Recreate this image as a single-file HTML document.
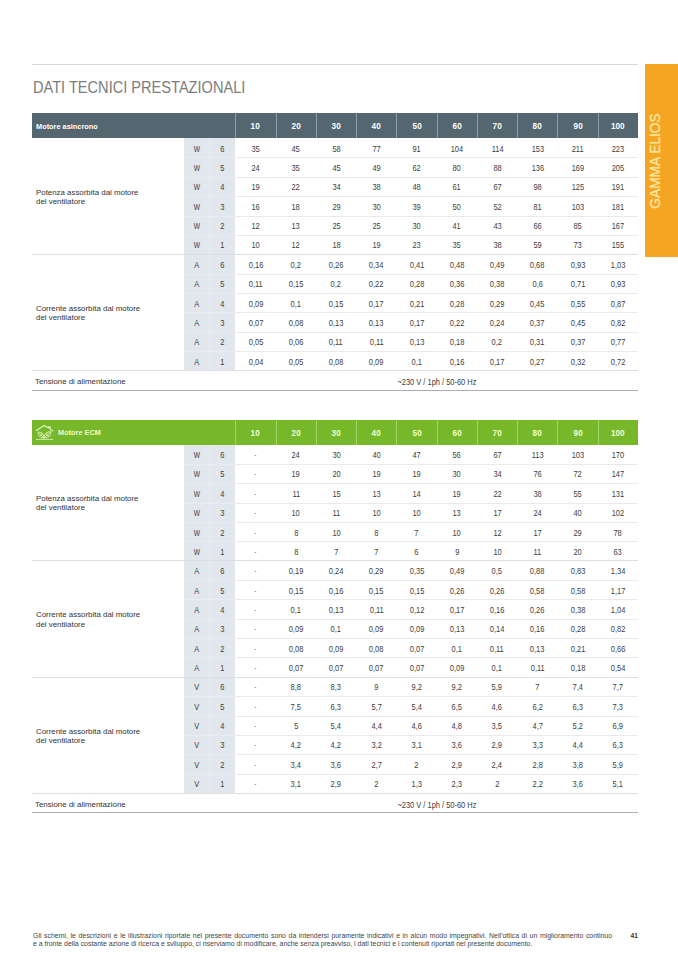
<!DOCTYPE html>
<html><head><meta charset="utf-8"><title>Dati tecnici prestazionali</title>
<style>
html,body{margin:0;padding:0;background:#fff}
body{width:678px;height:959px;position:relative;overflow:hidden;font-family:"Liberation Sans",sans-serif;color:#4b4b4b}
.b{position:absolute}
.t{position:absolute;height:12px;line-height:12px;font-size:8.3px;white-space:nowrap}
.t span{display:inline-block;transform:scaleX(0.9)}
.d{text-align:center;color:#3d3d3d}
.h{text-align:center;color:#fff;font-weight:bold;font-size:9.3px}
.h span{transform:scaleX(0.88)}
.hg{color:#efffd0}
.ds{color:#666}
.ds span{transform:scaleX(0.65)}
.uw span{transform:scaleX(0.8)}
.l{color:#333;font-size:8px}
.l span{transform:scaleX(0.985)}
.l span,.hl span{transform-origin:0 50%}
.hl span{transform:scaleX(0.92)}
.hl{color:#fff;font-weight:bold;font-size:8px}
.g{color:#e9f8cf}
#rule{left:32px;top:63.8px;width:606.1px;height:1px;background:#d8d8d8}
#title{left:32.8px;top:77.0px;font-size:15.9px;line-height:22px;color:#7c7c7c;white-space:nowrap;transform-origin:0 50%;transform:scaleX(0.918)}
#tab{left:645px;top:64.2px;width:33px;height:193.2px;background:#f4a522}
#tabt{left:645px;top:64px;width:33px;height:193px}
#tabt span{position:absolute;left:9.3px;top:96.5px;white-space:nowrap;font-size:15.2px;color:#ffe9a8;transform:translate(-50%,-50%) rotate(-90deg) scaleX(0.904);-webkit-text-stroke:0.25px #ffe9a8}
.ft{left:32.7px;font-size:6.6px;line-height:8px;color:#444;white-space:nowrap;transform-origin:0 50%;transform:scaleX(1.048)}
#f1{width:552.5px;text-align:justify;text-align-last:justify}
#pn{left:630.5px;top:931.8px;font-size:6.6px;line-height:8px;font-weight:bold;color:#333}
</style></head><body>
<div class="b" id="rule"></div>
<div class="b" id="title">DATI TECNICI PRESTAZIONALI</div>
<div class="b" id="tab"></div>
<div class="b" id="tabt"><span>GAMMA ELIOS</span></div>
<div class="b" style="left:32px;top:113px;width:606.1px;height:25.4px;background:#546670;"></div>
<div class="b" style="left:235.3px;top:113px;width:1px;height:25.4px;background:#8e9ca5;"></div>
<div class="t h" style="left:235.63px;top:120.3px;width:40px"><span>10</span></div>
<div class="b" style="left:275.57px;top:113px;width:1px;height:25.4px;background:#8e9ca5;"></div>
<div class="t h" style="left:275.91px;top:120.3px;width:40px"><span>20</span></div>
<div class="b" style="left:315.84px;top:113px;width:1px;height:25.4px;background:#8e9ca5;"></div>
<div class="t h" style="left:316.18px;top:120.3px;width:40px"><span>30</span></div>
<div class="b" style="left:356.11px;top:113px;width:1px;height:25.4px;background:#8e9ca5;"></div>
<div class="t h" style="left:356.44px;top:120.3px;width:40px"><span>40</span></div>
<div class="b" style="left:396.38px;top:113px;width:1px;height:25.4px;background:#8e9ca5;"></div>
<div class="t h" style="left:396.71px;top:120.3px;width:40px"><span>50</span></div>
<div class="b" style="left:436.65px;top:113px;width:1px;height:25.4px;background:#8e9ca5;"></div>
<div class="t h" style="left:436.99px;top:120.3px;width:40px"><span>60</span></div>
<div class="b" style="left:476.92px;top:113px;width:1px;height:25.4px;background:#8e9ca5;"></div>
<div class="t h" style="left:477.25px;top:120.3px;width:40px"><span>70</span></div>
<div class="b" style="left:517.19px;top:113px;width:1px;height:25.4px;background:#8e9ca5;"></div>
<div class="t h" style="left:517.53px;top:120.3px;width:40px"><span>80</span></div>
<div class="b" style="left:557.46px;top:113px;width:1px;height:25.4px;background:#8e9ca5;"></div>
<div class="t h" style="left:557.8px;top:120.3px;width:40px"><span>90</span></div>
<div class="b" style="left:597.73px;top:113px;width:1px;height:25.4px;background:#8e9ca5;"></div>
<div class="t h" style="left:598.07px;top:120.3px;width:40px"><span>100</span></div>
<div class="t hl" style="left:35.9px;top:121.1px"><span>Motore asincrono</span></div>
<div class="b" style="left:184px;top:138.4px;width:51.2px;height:232.32px;background:#e2e7ed;"></div>
<div class="b" style="left:208.9px;top:138.4px;width:1.2px;height:232.32px;background:#e9edf0;"></div>
<div class="t d uw" style="left:185px;top:142.68px;width:24px"><span>W</span></div>
<div class="t d" style="left:210.1px;top:142.68px;width:24px"><span>6</span></div>
<div class="t d" style="left:235.63px;top:142.68px;width:40px"><span>35</span></div>
<div class="t d" style="left:275.91px;top:142.68px;width:40px"><span>45</span></div>
<div class="t d" style="left:316.18px;top:142.68px;width:40px"><span>58</span></div>
<div class="t d" style="left:356.44px;top:142.68px;width:40px"><span>77</span></div>
<div class="t d" style="left:396.71px;top:142.68px;width:40px"><span>91</span></div>
<div class="t d" style="left:436.99px;top:142.68px;width:40px"><span>104</span></div>
<div class="t d" style="left:477.25px;top:142.68px;width:40px"><span>114</span></div>
<div class="t d" style="left:517.53px;top:142.68px;width:40px"><span>153</span></div>
<div class="t d" style="left:557.8px;top:142.68px;width:40px"><span>211</span></div>
<div class="t d" style="left:598.07px;top:142.68px;width:40px"><span>223</span></div>
<div class="b" style="left:184px;top:157.46px;width:51.2px;height:1px;background:#e9edf0;"></div>
<div class="b" style="left:235.2px;top:157.46px;width:402.9px;height:1px;background:#eaeaea;"></div>
<div class="t d uw" style="left:185px;top:162.04px;width:24px"><span>W</span></div>
<div class="t d" style="left:210.1px;top:162.04px;width:24px"><span>5</span></div>
<div class="t d" style="left:235.63px;top:162.04px;width:40px"><span>24</span></div>
<div class="t d" style="left:275.91px;top:162.04px;width:40px"><span>35</span></div>
<div class="t d" style="left:316.18px;top:162.04px;width:40px"><span>45</span></div>
<div class="t d" style="left:356.44px;top:162.04px;width:40px"><span>49</span></div>
<div class="t d" style="left:396.71px;top:162.04px;width:40px"><span>62</span></div>
<div class="t d" style="left:436.99px;top:162.04px;width:40px"><span>80</span></div>
<div class="t d" style="left:477.25px;top:162.04px;width:40px"><span>88</span></div>
<div class="t d" style="left:517.53px;top:162.04px;width:40px"><span>136</span></div>
<div class="t d" style="left:557.8px;top:162.04px;width:40px"><span>169</span></div>
<div class="t d" style="left:598.07px;top:162.04px;width:40px"><span>205</span></div>
<div class="b" style="left:184px;top:176.82px;width:51.2px;height:1px;background:#e9edf0;"></div>
<div class="b" style="left:235.2px;top:176.82px;width:402.9px;height:1px;background:#eaeaea;"></div>
<div class="t d uw" style="left:185px;top:181.4px;width:24px"><span>W</span></div>
<div class="t d" style="left:210.1px;top:181.4px;width:24px"><span>4</span></div>
<div class="t d" style="left:235.63px;top:181.4px;width:40px"><span>19</span></div>
<div class="t d" style="left:275.91px;top:181.4px;width:40px"><span>22</span></div>
<div class="t d" style="left:316.18px;top:181.4px;width:40px"><span>34</span></div>
<div class="t d" style="left:356.44px;top:181.4px;width:40px"><span>38</span></div>
<div class="t d" style="left:396.71px;top:181.4px;width:40px"><span>48</span></div>
<div class="t d" style="left:436.99px;top:181.4px;width:40px"><span>61</span></div>
<div class="t d" style="left:477.25px;top:181.4px;width:40px"><span>67</span></div>
<div class="t d" style="left:517.53px;top:181.4px;width:40px"><span>98</span></div>
<div class="t d" style="left:557.8px;top:181.4px;width:40px"><span>125</span></div>
<div class="t d" style="left:598.07px;top:181.4px;width:40px"><span>191</span></div>
<div class="b" style="left:184px;top:196.18px;width:51.2px;height:1px;background:#e9edf0;"></div>
<div class="b" style="left:235.2px;top:196.18px;width:402.9px;height:1px;background:#eaeaea;"></div>
<div class="t d uw" style="left:185px;top:200.76px;width:24px"><span>W</span></div>
<div class="t d" style="left:210.1px;top:200.76px;width:24px"><span>3</span></div>
<div class="t d" style="left:235.63px;top:200.76px;width:40px"><span>16</span></div>
<div class="t d" style="left:275.91px;top:200.76px;width:40px"><span>18</span></div>
<div class="t d" style="left:316.18px;top:200.76px;width:40px"><span>29</span></div>
<div class="t d" style="left:356.44px;top:200.76px;width:40px"><span>30</span></div>
<div class="t d" style="left:396.71px;top:200.76px;width:40px"><span>39</span></div>
<div class="t d" style="left:436.99px;top:200.76px;width:40px"><span>50</span></div>
<div class="t d" style="left:477.25px;top:200.76px;width:40px"><span>52</span></div>
<div class="t d" style="left:517.53px;top:200.76px;width:40px"><span>81</span></div>
<div class="t d" style="left:557.8px;top:200.76px;width:40px"><span>103</span></div>
<div class="t d" style="left:598.07px;top:200.76px;width:40px"><span>181</span></div>
<div class="b" style="left:184px;top:215.54px;width:51.2px;height:1px;background:#e9edf0;"></div>
<div class="b" style="left:235.2px;top:215.54px;width:402.9px;height:1px;background:#eaeaea;"></div>
<div class="t d uw" style="left:185px;top:220.12px;width:24px"><span>W</span></div>
<div class="t d" style="left:210.1px;top:220.12px;width:24px"><span>2</span></div>
<div class="t d" style="left:235.63px;top:220.12px;width:40px"><span>12</span></div>
<div class="t d" style="left:275.91px;top:220.12px;width:40px"><span>13</span></div>
<div class="t d" style="left:316.18px;top:220.12px;width:40px"><span>25</span></div>
<div class="t d" style="left:356.44px;top:220.12px;width:40px"><span>25</span></div>
<div class="t d" style="left:396.71px;top:220.12px;width:40px"><span>30</span></div>
<div class="t d" style="left:436.99px;top:220.12px;width:40px"><span>41</span></div>
<div class="t d" style="left:477.25px;top:220.12px;width:40px"><span>43</span></div>
<div class="t d" style="left:517.53px;top:220.12px;width:40px"><span>66</span></div>
<div class="t d" style="left:557.8px;top:220.12px;width:40px"><span>85</span></div>
<div class="t d" style="left:598.07px;top:220.12px;width:40px"><span>167</span></div>
<div class="b" style="left:184px;top:234.9px;width:51.2px;height:1px;background:#e9edf0;"></div>
<div class="b" style="left:235.2px;top:234.9px;width:402.9px;height:1px;background:#eaeaea;"></div>
<div class="t d uw" style="left:185px;top:239.48px;width:24px"><span>W</span></div>
<div class="t d" style="left:210.1px;top:239.48px;width:24px"><span>1</span></div>
<div class="t d" style="left:235.63px;top:239.48px;width:40px"><span>10</span></div>
<div class="t d" style="left:275.91px;top:239.48px;width:40px"><span>12</span></div>
<div class="t d" style="left:316.18px;top:239.48px;width:40px"><span>18</span></div>
<div class="t d" style="left:356.44px;top:239.48px;width:40px"><span>19</span></div>
<div class="t d" style="left:396.71px;top:239.48px;width:40px"><span>23</span></div>
<div class="t d" style="left:436.99px;top:239.48px;width:40px"><span>35</span></div>
<div class="t d" style="left:477.25px;top:239.48px;width:40px"><span>38</span></div>
<div class="t d" style="left:517.53px;top:239.48px;width:40px"><span>59</span></div>
<div class="t d" style="left:557.8px;top:239.48px;width:40px"><span>73</span></div>
<div class="t d" style="left:598.07px;top:239.48px;width:40px"><span>155</span></div>
<div class="b" style="left:32px;top:254.06px;width:606.1px;height:1px;background:#dedede;"></div>
<div class="t l" style="left:35.6px;top:186.78px"><span>Potenza assorbita dal motore</span></div>
<div class="t l" style="left:35.6px;top:195.98px"><span>del ventilatore</span></div>
<div class="t d" style="left:185px;top:258.84px;width:24px"><span>A</span></div>
<div class="t d" style="left:210.1px;top:258.84px;width:24px"><span>6</span></div>
<div class="t d" style="left:235.63px;top:258.84px;width:40px"><span>0,16</span></div>
<div class="t d" style="left:275.91px;top:258.84px;width:40px"><span>0,2</span></div>
<div class="t d" style="left:316.18px;top:258.84px;width:40px"><span>0,26</span></div>
<div class="t d" style="left:356.44px;top:258.84px;width:40px"><span>0,34</span></div>
<div class="t d" style="left:396.71px;top:258.84px;width:40px"><span>0,41</span></div>
<div class="t d" style="left:436.99px;top:258.84px;width:40px"><span>0,48</span></div>
<div class="t d" style="left:477.25px;top:258.84px;width:40px"><span>0,49</span></div>
<div class="t d" style="left:517.53px;top:258.84px;width:40px"><span>0,68</span></div>
<div class="t d" style="left:557.8px;top:258.84px;width:40px"><span>0,93</span></div>
<div class="t d" style="left:598.07px;top:258.84px;width:40px"><span>1,03</span></div>
<div class="b" style="left:184px;top:273.62px;width:51.2px;height:1px;background:#e9edf0;"></div>
<div class="b" style="left:235.2px;top:273.62px;width:402.9px;height:1px;background:#eaeaea;"></div>
<div class="t d" style="left:185px;top:278.2px;width:24px"><span>A</span></div>
<div class="t d" style="left:210.1px;top:278.2px;width:24px"><span>5</span></div>
<div class="t d" style="left:235.63px;top:278.2px;width:40px"><span>0,11</span></div>
<div class="t d" style="left:275.91px;top:278.2px;width:40px"><span>0,15</span></div>
<div class="t d" style="left:316.18px;top:278.2px;width:40px"><span>0,2</span></div>
<div class="t d" style="left:356.44px;top:278.2px;width:40px"><span>0,22</span></div>
<div class="t d" style="left:396.71px;top:278.2px;width:40px"><span>0,28</span></div>
<div class="t d" style="left:436.99px;top:278.2px;width:40px"><span>0,36</span></div>
<div class="t d" style="left:477.25px;top:278.2px;width:40px"><span>0,38</span></div>
<div class="t d" style="left:517.53px;top:278.2px;width:40px"><span>0,6</span></div>
<div class="t d" style="left:557.8px;top:278.2px;width:40px"><span>0,71</span></div>
<div class="t d" style="left:598.07px;top:278.2px;width:40px"><span>0,93</span></div>
<div class="b" style="left:184px;top:292.98px;width:51.2px;height:1px;background:#e9edf0;"></div>
<div class="b" style="left:235.2px;top:292.98px;width:402.9px;height:1px;background:#eaeaea;"></div>
<div class="t d" style="left:185px;top:297.56px;width:24px"><span>A</span></div>
<div class="t d" style="left:210.1px;top:297.56px;width:24px"><span>4</span></div>
<div class="t d" style="left:235.63px;top:297.56px;width:40px"><span>0,09</span></div>
<div class="t d" style="left:275.91px;top:297.56px;width:40px"><span>0,1</span></div>
<div class="t d" style="left:316.18px;top:297.56px;width:40px"><span>0,15</span></div>
<div class="t d" style="left:356.44px;top:297.56px;width:40px"><span>0,17</span></div>
<div class="t d" style="left:396.71px;top:297.56px;width:40px"><span>0,21</span></div>
<div class="t d" style="left:436.99px;top:297.56px;width:40px"><span>0,28</span></div>
<div class="t d" style="left:477.25px;top:297.56px;width:40px"><span>0,29</span></div>
<div class="t d" style="left:517.53px;top:297.56px;width:40px"><span>0,45</span></div>
<div class="t d" style="left:557.8px;top:297.56px;width:40px"><span>0,55</span></div>
<div class="t d" style="left:598.07px;top:297.56px;width:40px"><span>0,87</span></div>
<div class="b" style="left:184px;top:312.34px;width:51.2px;height:1px;background:#e9edf0;"></div>
<div class="b" style="left:235.2px;top:312.34px;width:402.9px;height:1px;background:#eaeaea;"></div>
<div class="t d" style="left:185px;top:316.92px;width:24px"><span>A</span></div>
<div class="t d" style="left:210.1px;top:316.92px;width:24px"><span>3</span></div>
<div class="t d" style="left:235.63px;top:316.92px;width:40px"><span>0,07</span></div>
<div class="t d" style="left:275.91px;top:316.92px;width:40px"><span>0,08</span></div>
<div class="t d" style="left:316.18px;top:316.92px;width:40px"><span>0,13</span></div>
<div class="t d" style="left:356.44px;top:316.92px;width:40px"><span>0,13</span></div>
<div class="t d" style="left:396.71px;top:316.92px;width:40px"><span>0,17</span></div>
<div class="t d" style="left:436.99px;top:316.92px;width:40px"><span>0,22</span></div>
<div class="t d" style="left:477.25px;top:316.92px;width:40px"><span>0,24</span></div>
<div class="t d" style="left:517.53px;top:316.92px;width:40px"><span>0,37</span></div>
<div class="t d" style="left:557.8px;top:316.92px;width:40px"><span>0,45</span></div>
<div class="t d" style="left:598.07px;top:316.92px;width:40px"><span>0,82</span></div>
<div class="b" style="left:184px;top:331.7px;width:51.2px;height:1px;background:#e9edf0;"></div>
<div class="b" style="left:235.2px;top:331.7px;width:402.9px;height:1px;background:#eaeaea;"></div>
<div class="t d" style="left:185px;top:336.28px;width:24px"><span>A</span></div>
<div class="t d" style="left:210.1px;top:336.28px;width:24px"><span>2</span></div>
<div class="t d" style="left:235.63px;top:336.28px;width:40px"><span>0,05</span></div>
<div class="t d" style="left:275.91px;top:336.28px;width:40px"><span>0,06</span></div>
<div class="t d" style="left:316.18px;top:336.28px;width:40px"><span>0,11</span></div>
<div class="t d" style="left:356.44px;top:336.28px;width:40px"><span>0,11</span></div>
<div class="t d" style="left:396.71px;top:336.28px;width:40px"><span>0,13</span></div>
<div class="t d" style="left:436.99px;top:336.28px;width:40px"><span>0,18</span></div>
<div class="t d" style="left:477.25px;top:336.28px;width:40px"><span>0,2</span></div>
<div class="t d" style="left:517.53px;top:336.28px;width:40px"><span>0,31</span></div>
<div class="t d" style="left:557.8px;top:336.28px;width:40px"><span>0,37</span></div>
<div class="t d" style="left:598.07px;top:336.28px;width:40px"><span>0,77</span></div>
<div class="b" style="left:184px;top:351.06px;width:51.2px;height:1px;background:#e9edf0;"></div>
<div class="b" style="left:235.2px;top:351.06px;width:402.9px;height:1px;background:#eaeaea;"></div>
<div class="t d" style="left:185px;top:355.64px;width:24px"><span>A</span></div>
<div class="t d" style="left:210.1px;top:355.64px;width:24px"><span>1</span></div>
<div class="t d" style="left:235.63px;top:355.64px;width:40px"><span>0,04</span></div>
<div class="t d" style="left:275.91px;top:355.64px;width:40px"><span>0,05</span></div>
<div class="t d" style="left:316.18px;top:355.64px;width:40px"><span>0,08</span></div>
<div class="t d" style="left:356.44px;top:355.64px;width:40px"><span>0,09</span></div>
<div class="t d" style="left:396.71px;top:355.64px;width:40px"><span>0,1</span></div>
<div class="t d" style="left:436.99px;top:355.64px;width:40px"><span>0,16</span></div>
<div class="t d" style="left:477.25px;top:355.64px;width:40px"><span>0,17</span></div>
<div class="t d" style="left:517.53px;top:355.64px;width:40px"><span>0,27</span></div>
<div class="t d" style="left:557.8px;top:355.64px;width:40px"><span>0,32</span></div>
<div class="t d" style="left:598.07px;top:355.64px;width:40px"><span>0,72</span></div>
<div class="b" style="left:32px;top:370.22px;width:606.1px;height:1px;background:#dedede;"></div>
<div class="t l" style="left:35.6px;top:302.94px"><span>Corrente assorbita dal motore</span></div>
<div class="t l" style="left:35.6px;top:312.14px"><span>del ventilatore</span></div>
<div class="t l" style="left:35px;top:376.06px"><span>Tensione di alimentazione</span></div>
<div class="t d" style="left:367.15px;top:376.06px;width:140px"><span>~230 V / 1ph / 50-60 Hz</span></div>
<div class="b" style="left:32px;top:389.5px;width:606.1px;height:1px;background:#adadad;"></div>
<div class="b" style="left:32px;top:419.7px;width:606.1px;height:25.1px;background:#77b82a;"></div>
<div class="b" style="left:235.3px;top:419.7px;width:1px;height:25.1px;background:#a4d46a;"></div>
<div class="t h hg" style="left:235.63px;top:426.85px;width:40px"><span>10</span></div>
<div class="b" style="left:275.57px;top:419.7px;width:1px;height:25.1px;background:#a4d46a;"></div>
<div class="t h hg" style="left:275.91px;top:426.85px;width:40px"><span>20</span></div>
<div class="b" style="left:315.84px;top:419.7px;width:1px;height:25.1px;background:#a4d46a;"></div>
<div class="t h hg" style="left:316.18px;top:426.85px;width:40px"><span>30</span></div>
<div class="b" style="left:356.11px;top:419.7px;width:1px;height:25.1px;background:#a4d46a;"></div>
<div class="t h hg" style="left:356.44px;top:426.85px;width:40px"><span>40</span></div>
<div class="b" style="left:396.38px;top:419.7px;width:1px;height:25.1px;background:#a4d46a;"></div>
<div class="t h hg" style="left:396.71px;top:426.85px;width:40px"><span>50</span></div>
<div class="b" style="left:436.65px;top:419.7px;width:1px;height:25.1px;background:#a4d46a;"></div>
<div class="t h hg" style="left:436.99px;top:426.85px;width:40px"><span>60</span></div>
<div class="b" style="left:476.92px;top:419.7px;width:1px;height:25.1px;background:#a4d46a;"></div>
<div class="t h hg" style="left:477.25px;top:426.85px;width:40px"><span>70</span></div>
<div class="b" style="left:517.19px;top:419.7px;width:1px;height:25.1px;background:#a4d46a;"></div>
<div class="t h hg" style="left:517.53px;top:426.85px;width:40px"><span>80</span></div>
<div class="b" style="left:557.46px;top:419.7px;width:1px;height:25.1px;background:#a4d46a;"></div>
<div class="t h hg" style="left:557.8px;top:426.85px;width:40px"><span>90</span></div>
<div class="b" style="left:597.73px;top:419.7px;width:1px;height:25.1px;background:#a4d46a;"></div>
<div class="t h hg" style="left:598.07px;top:426.85px;width:40px"><span>100</span></div>
<svg class="b" style="left:33px;top:420px" width="24" height="24" viewBox="0 0 24 24" fill="none" stroke="#e0f4c0" stroke-linecap="round" stroke-linejoin="round"><path stroke-width="1.15" d="M3.3 10.6 L11.15 5.4 L15.5 8.1 V6.8 H17.2 V9.2 L19.9 10.9"/><path stroke-width="1" d="M10.9 17.8 C7.3 18.3 4.9 16 5.25 12.15 C8.9 12 11.1 14.4 10.9 17.8 Z"/><path stroke-width="1" d="M11.1 17.8 C10.9 14.2 13.5 11.6 17.75 11.8 C18 15.9 15 18.4 11.1 17.8 Z"/><path stroke-width="0.7" d="M5.9 12.8 L10.4 17.3 M17.1 12.5 L11.6 17.3 M7 15.6 L8.6 15.5 M8.6 13.4 L8.6 15.5 M15.7 15.6 L13.6 15.4 M14 13.2 L13.6 15.4"/><path stroke-width="0.75" d="M3.2 19.45 H19.9"/></svg>
<div class="t hl g" style="left:58.3px;top:427.45px"><span>Motore ECM</span></div>
<div class="b" style="left:184px;top:444.8px;width:51.2px;height:348.48px;background:#e2e7ed;"></div>
<div class="b" style="left:208.9px;top:444.8px;width:1.2px;height:348.48px;background:#e9edf0;"></div>
<div class="t d uw" style="left:185px;top:449.08px;width:24px"><span>W</span></div>
<div class="t d" style="left:210.1px;top:449.08px;width:24px"><span>6</span></div>
<div class="t d ds" style="left:235.63px;top:449.08px;width:40px"><span>-</span></div>
<div class="t d" style="left:275.91px;top:449.08px;width:40px"><span>24</span></div>
<div class="t d" style="left:316.18px;top:449.08px;width:40px"><span>30</span></div>
<div class="t d" style="left:356.44px;top:449.08px;width:40px"><span>40</span></div>
<div class="t d" style="left:396.71px;top:449.08px;width:40px"><span>47</span></div>
<div class="t d" style="left:436.99px;top:449.08px;width:40px"><span>56</span></div>
<div class="t d" style="left:477.25px;top:449.08px;width:40px"><span>67</span></div>
<div class="t d" style="left:517.53px;top:449.08px;width:40px"><span>113</span></div>
<div class="t d" style="left:557.8px;top:449.08px;width:40px"><span>103</span></div>
<div class="t d" style="left:598.07px;top:449.08px;width:40px"><span>170</span></div>
<div class="b" style="left:184px;top:463.86px;width:51.2px;height:1px;background:#e9edf0;"></div>
<div class="b" style="left:235.2px;top:463.86px;width:402.9px;height:1px;background:#eaeaea;"></div>
<div class="t d uw" style="left:185px;top:468.44px;width:24px"><span>W</span></div>
<div class="t d" style="left:210.1px;top:468.44px;width:24px"><span>5</span></div>
<div class="t d ds" style="left:235.63px;top:468.44px;width:40px"><span>-</span></div>
<div class="t d" style="left:275.91px;top:468.44px;width:40px"><span>19</span></div>
<div class="t d" style="left:316.18px;top:468.44px;width:40px"><span>20</span></div>
<div class="t d" style="left:356.44px;top:468.44px;width:40px"><span>19</span></div>
<div class="t d" style="left:396.71px;top:468.44px;width:40px"><span>19</span></div>
<div class="t d" style="left:436.99px;top:468.44px;width:40px"><span>30</span></div>
<div class="t d" style="left:477.25px;top:468.44px;width:40px"><span>34</span></div>
<div class="t d" style="left:517.53px;top:468.44px;width:40px"><span>76</span></div>
<div class="t d" style="left:557.8px;top:468.44px;width:40px"><span>72</span></div>
<div class="t d" style="left:598.07px;top:468.44px;width:40px"><span>147</span></div>
<div class="b" style="left:184px;top:483.22px;width:51.2px;height:1px;background:#e9edf0;"></div>
<div class="b" style="left:235.2px;top:483.22px;width:402.9px;height:1px;background:#eaeaea;"></div>
<div class="t d uw" style="left:185px;top:487.8px;width:24px"><span>W</span></div>
<div class="t d" style="left:210.1px;top:487.8px;width:24px"><span>4</span></div>
<div class="t d ds" style="left:235.63px;top:487.8px;width:40px"><span>-</span></div>
<div class="t d" style="left:275.91px;top:487.8px;width:40px"><span>11</span></div>
<div class="t d" style="left:316.18px;top:487.8px;width:40px"><span>15</span></div>
<div class="t d" style="left:356.44px;top:487.8px;width:40px"><span>13</span></div>
<div class="t d" style="left:396.71px;top:487.8px;width:40px"><span>14</span></div>
<div class="t d" style="left:436.99px;top:487.8px;width:40px"><span>19</span></div>
<div class="t d" style="left:477.25px;top:487.8px;width:40px"><span>22</span></div>
<div class="t d" style="left:517.53px;top:487.8px;width:40px"><span>38</span></div>
<div class="t d" style="left:557.8px;top:487.8px;width:40px"><span>55</span></div>
<div class="t d" style="left:598.07px;top:487.8px;width:40px"><span>131</span></div>
<div class="b" style="left:184px;top:502.58px;width:51.2px;height:1px;background:#e9edf0;"></div>
<div class="b" style="left:235.2px;top:502.58px;width:402.9px;height:1px;background:#eaeaea;"></div>
<div class="t d uw" style="left:185px;top:507.16px;width:24px"><span>W</span></div>
<div class="t d" style="left:210.1px;top:507.16px;width:24px"><span>3</span></div>
<div class="t d ds" style="left:235.63px;top:507.16px;width:40px"><span>-</span></div>
<div class="t d" style="left:275.91px;top:507.16px;width:40px"><span>10</span></div>
<div class="t d" style="left:316.18px;top:507.16px;width:40px"><span>11</span></div>
<div class="t d" style="left:356.44px;top:507.16px;width:40px"><span>10</span></div>
<div class="t d" style="left:396.71px;top:507.16px;width:40px"><span>10</span></div>
<div class="t d" style="left:436.99px;top:507.16px;width:40px"><span>13</span></div>
<div class="t d" style="left:477.25px;top:507.16px;width:40px"><span>17</span></div>
<div class="t d" style="left:517.53px;top:507.16px;width:40px"><span>24</span></div>
<div class="t d" style="left:557.8px;top:507.16px;width:40px"><span>40</span></div>
<div class="t d" style="left:598.07px;top:507.16px;width:40px"><span>102</span></div>
<div class="b" style="left:184px;top:521.94px;width:51.2px;height:1px;background:#e9edf0;"></div>
<div class="b" style="left:235.2px;top:521.94px;width:402.9px;height:1px;background:#eaeaea;"></div>
<div class="t d uw" style="left:185px;top:526.52px;width:24px"><span>W</span></div>
<div class="t d" style="left:210.1px;top:526.52px;width:24px"><span>2</span></div>
<div class="t d ds" style="left:235.63px;top:526.52px;width:40px"><span>-</span></div>
<div class="t d" style="left:275.91px;top:526.52px;width:40px"><span>8</span></div>
<div class="t d" style="left:316.18px;top:526.52px;width:40px"><span>10</span></div>
<div class="t d" style="left:356.44px;top:526.52px;width:40px"><span>8</span></div>
<div class="t d" style="left:396.71px;top:526.52px;width:40px"><span>7</span></div>
<div class="t d" style="left:436.99px;top:526.52px;width:40px"><span>10</span></div>
<div class="t d" style="left:477.25px;top:526.52px;width:40px"><span>12</span></div>
<div class="t d" style="left:517.53px;top:526.52px;width:40px"><span>17</span></div>
<div class="t d" style="left:557.8px;top:526.52px;width:40px"><span>29</span></div>
<div class="t d" style="left:598.07px;top:526.52px;width:40px"><span>78</span></div>
<div class="b" style="left:184px;top:541.3px;width:51.2px;height:1px;background:#e9edf0;"></div>
<div class="b" style="left:235.2px;top:541.3px;width:402.9px;height:1px;background:#eaeaea;"></div>
<div class="t d uw" style="left:185px;top:545.88px;width:24px"><span>W</span></div>
<div class="t d" style="left:210.1px;top:545.88px;width:24px"><span>1</span></div>
<div class="t d ds" style="left:235.63px;top:545.88px;width:40px"><span>-</span></div>
<div class="t d" style="left:275.91px;top:545.88px;width:40px"><span>8</span></div>
<div class="t d" style="left:316.18px;top:545.88px;width:40px"><span>7</span></div>
<div class="t d" style="left:356.44px;top:545.88px;width:40px"><span>7</span></div>
<div class="t d" style="left:396.71px;top:545.88px;width:40px"><span>6</span></div>
<div class="t d" style="left:436.99px;top:545.88px;width:40px"><span>9</span></div>
<div class="t d" style="left:477.25px;top:545.88px;width:40px"><span>10</span></div>
<div class="t d" style="left:517.53px;top:545.88px;width:40px"><span>11</span></div>
<div class="t d" style="left:557.8px;top:545.88px;width:40px"><span>20</span></div>
<div class="t d" style="left:598.07px;top:545.88px;width:40px"><span>63</span></div>
<div class="b" style="left:32px;top:560.46px;width:606.1px;height:1px;background:#dedede;"></div>
<div class="t l" style="left:35.6px;top:493.18px"><span>Potenza assorbita dal motore</span></div>
<div class="t l" style="left:35.6px;top:502.38px"><span>del ventilatore</span></div>
<div class="t d" style="left:185px;top:565.24px;width:24px"><span>A</span></div>
<div class="t d" style="left:210.1px;top:565.24px;width:24px"><span>6</span></div>
<div class="t d ds" style="left:235.63px;top:565.24px;width:40px"><span>-</span></div>
<div class="t d" style="left:275.91px;top:565.24px;width:40px"><span>0,19</span></div>
<div class="t d" style="left:316.18px;top:565.24px;width:40px"><span>0,24</span></div>
<div class="t d" style="left:356.44px;top:565.24px;width:40px"><span>0,29</span></div>
<div class="t d" style="left:396.71px;top:565.24px;width:40px"><span>0,35</span></div>
<div class="t d" style="left:436.99px;top:565.24px;width:40px"><span>0,49</span></div>
<div class="t d" style="left:477.25px;top:565.24px;width:40px"><span>0,5</span></div>
<div class="t d" style="left:517.53px;top:565.24px;width:40px"><span>0,88</span></div>
<div class="t d" style="left:557.8px;top:565.24px;width:40px"><span>0,83</span></div>
<div class="t d" style="left:598.07px;top:565.24px;width:40px"><span>1,34</span></div>
<div class="b" style="left:184px;top:580.02px;width:51.2px;height:1px;background:#e9edf0;"></div>
<div class="b" style="left:235.2px;top:580.02px;width:402.9px;height:1px;background:#eaeaea;"></div>
<div class="t d" style="left:185px;top:584.6px;width:24px"><span>A</span></div>
<div class="t d" style="left:210.1px;top:584.6px;width:24px"><span>5</span></div>
<div class="t d ds" style="left:235.63px;top:584.6px;width:40px"><span>-</span></div>
<div class="t d" style="left:275.91px;top:584.6px;width:40px"><span>0,15</span></div>
<div class="t d" style="left:316.18px;top:584.6px;width:40px"><span>0,16</span></div>
<div class="t d" style="left:356.44px;top:584.6px;width:40px"><span>0,15</span></div>
<div class="t d" style="left:396.71px;top:584.6px;width:40px"><span>0,15</span></div>
<div class="t d" style="left:436.99px;top:584.6px;width:40px"><span>0,26</span></div>
<div class="t d" style="left:477.25px;top:584.6px;width:40px"><span>0,26</span></div>
<div class="t d" style="left:517.53px;top:584.6px;width:40px"><span>0,58</span></div>
<div class="t d" style="left:557.8px;top:584.6px;width:40px"><span>0,58</span></div>
<div class="t d" style="left:598.07px;top:584.6px;width:40px"><span>1,17</span></div>
<div class="b" style="left:184px;top:599.38px;width:51.2px;height:1px;background:#e9edf0;"></div>
<div class="b" style="left:235.2px;top:599.38px;width:402.9px;height:1px;background:#eaeaea;"></div>
<div class="t d" style="left:185px;top:603.96px;width:24px"><span>A</span></div>
<div class="t d" style="left:210.1px;top:603.96px;width:24px"><span>4</span></div>
<div class="t d ds" style="left:235.63px;top:603.96px;width:40px"><span>-</span></div>
<div class="t d" style="left:275.91px;top:603.96px;width:40px"><span>0,1</span></div>
<div class="t d" style="left:316.18px;top:603.96px;width:40px"><span>0,13</span></div>
<div class="t d" style="left:356.44px;top:603.96px;width:40px"><span>0,11</span></div>
<div class="t d" style="left:396.71px;top:603.96px;width:40px"><span>0,12</span></div>
<div class="t d" style="left:436.99px;top:603.96px;width:40px"><span>0,17</span></div>
<div class="t d" style="left:477.25px;top:603.96px;width:40px"><span>0,16</span></div>
<div class="t d" style="left:517.53px;top:603.96px;width:40px"><span>0,26</span></div>
<div class="t d" style="left:557.8px;top:603.96px;width:40px"><span>0,38</span></div>
<div class="t d" style="left:598.07px;top:603.96px;width:40px"><span>1,04</span></div>
<div class="b" style="left:184px;top:618.74px;width:51.2px;height:1px;background:#e9edf0;"></div>
<div class="b" style="left:235.2px;top:618.74px;width:402.9px;height:1px;background:#eaeaea;"></div>
<div class="t d" style="left:185px;top:623.32px;width:24px"><span>A</span></div>
<div class="t d" style="left:210.1px;top:623.32px;width:24px"><span>3</span></div>
<div class="t d ds" style="left:235.63px;top:623.32px;width:40px"><span>-</span></div>
<div class="t d" style="left:275.91px;top:623.32px;width:40px"><span>0,09</span></div>
<div class="t d" style="left:316.18px;top:623.32px;width:40px"><span>0,1</span></div>
<div class="t d" style="left:356.44px;top:623.32px;width:40px"><span>0,09</span></div>
<div class="t d" style="left:396.71px;top:623.32px;width:40px"><span>0,09</span></div>
<div class="t d" style="left:436.99px;top:623.32px;width:40px"><span>0,13</span></div>
<div class="t d" style="left:477.25px;top:623.32px;width:40px"><span>0,14</span></div>
<div class="t d" style="left:517.53px;top:623.32px;width:40px"><span>0,16</span></div>
<div class="t d" style="left:557.8px;top:623.32px;width:40px"><span>0,28</span></div>
<div class="t d" style="left:598.07px;top:623.32px;width:40px"><span>0,82</span></div>
<div class="b" style="left:184px;top:638.1px;width:51.2px;height:1px;background:#e9edf0;"></div>
<div class="b" style="left:235.2px;top:638.1px;width:402.9px;height:1px;background:#eaeaea;"></div>
<div class="t d" style="left:185px;top:642.68px;width:24px"><span>A</span></div>
<div class="t d" style="left:210.1px;top:642.68px;width:24px"><span>2</span></div>
<div class="t d ds" style="left:235.63px;top:642.68px;width:40px"><span>-</span></div>
<div class="t d" style="left:275.91px;top:642.68px;width:40px"><span>0,08</span></div>
<div class="t d" style="left:316.18px;top:642.68px;width:40px"><span>0,09</span></div>
<div class="t d" style="left:356.44px;top:642.68px;width:40px"><span>0,08</span></div>
<div class="t d" style="left:396.71px;top:642.68px;width:40px"><span>0,07</span></div>
<div class="t d" style="left:436.99px;top:642.68px;width:40px"><span>0,1</span></div>
<div class="t d" style="left:477.25px;top:642.68px;width:40px"><span>0,11</span></div>
<div class="t d" style="left:517.53px;top:642.68px;width:40px"><span>0,13</span></div>
<div class="t d" style="left:557.8px;top:642.68px;width:40px"><span>0,21</span></div>
<div class="t d" style="left:598.07px;top:642.68px;width:40px"><span>0,66</span></div>
<div class="b" style="left:184px;top:657.46px;width:51.2px;height:1px;background:#e9edf0;"></div>
<div class="b" style="left:235.2px;top:657.46px;width:402.9px;height:1px;background:#eaeaea;"></div>
<div class="t d" style="left:185px;top:662.04px;width:24px"><span>A</span></div>
<div class="t d" style="left:210.1px;top:662.04px;width:24px"><span>1</span></div>
<div class="t d ds" style="left:235.63px;top:662.04px;width:40px"><span>-</span></div>
<div class="t d" style="left:275.91px;top:662.04px;width:40px"><span>0,07</span></div>
<div class="t d" style="left:316.18px;top:662.04px;width:40px"><span>0,07</span></div>
<div class="t d" style="left:356.44px;top:662.04px;width:40px"><span>0,07</span></div>
<div class="t d" style="left:396.71px;top:662.04px;width:40px"><span>0,07</span></div>
<div class="t d" style="left:436.99px;top:662.04px;width:40px"><span>0,09</span></div>
<div class="t d" style="left:477.25px;top:662.04px;width:40px"><span>0,1</span></div>
<div class="t d" style="left:517.53px;top:662.04px;width:40px"><span>0,11</span></div>
<div class="t d" style="left:557.8px;top:662.04px;width:40px"><span>0,18</span></div>
<div class="t d" style="left:598.07px;top:662.04px;width:40px"><span>0,54</span></div>
<div class="b" style="left:32px;top:676.62px;width:606.1px;height:1px;background:#dedede;"></div>
<div class="t l" style="left:35.6px;top:609.34px"><span>Corrente assorbita dal motore</span></div>
<div class="t l" style="left:35.6px;top:618.54px"><span>del ventilatore</span></div>
<div class="t d" style="left:185px;top:681.4px;width:24px"><span>V</span></div>
<div class="t d" style="left:210.1px;top:681.4px;width:24px"><span>6</span></div>
<div class="t d ds" style="left:235.63px;top:681.4px;width:40px"><span>-</span></div>
<div class="t d" style="left:275.91px;top:681.4px;width:40px"><span>8,8</span></div>
<div class="t d" style="left:316.18px;top:681.4px;width:40px"><span>8,3</span></div>
<div class="t d" style="left:356.44px;top:681.4px;width:40px"><span>9</span></div>
<div class="t d" style="left:396.71px;top:681.4px;width:40px"><span>9,2</span></div>
<div class="t d" style="left:436.99px;top:681.4px;width:40px"><span>9,2</span></div>
<div class="t d" style="left:477.25px;top:681.4px;width:40px"><span>5,9</span></div>
<div class="t d" style="left:517.53px;top:681.4px;width:40px"><span>7</span></div>
<div class="t d" style="left:557.8px;top:681.4px;width:40px"><span>7,4</span></div>
<div class="t d" style="left:598.07px;top:681.4px;width:40px"><span>7,7</span></div>
<div class="b" style="left:184px;top:696.18px;width:51.2px;height:1px;background:#e9edf0;"></div>
<div class="b" style="left:235.2px;top:696.18px;width:402.9px;height:1px;background:#eaeaea;"></div>
<div class="t d" style="left:185px;top:700.76px;width:24px"><span>V</span></div>
<div class="t d" style="left:210.1px;top:700.76px;width:24px"><span>5</span></div>
<div class="t d ds" style="left:235.63px;top:700.76px;width:40px"><span>-</span></div>
<div class="t d" style="left:275.91px;top:700.76px;width:40px"><span>7,5</span></div>
<div class="t d" style="left:316.18px;top:700.76px;width:40px"><span>6,3</span></div>
<div class="t d" style="left:356.44px;top:700.76px;width:40px"><span>5,7</span></div>
<div class="t d" style="left:396.71px;top:700.76px;width:40px"><span>5,4</span></div>
<div class="t d" style="left:436.99px;top:700.76px;width:40px"><span>6,5</span></div>
<div class="t d" style="left:477.25px;top:700.76px;width:40px"><span>4,6</span></div>
<div class="t d" style="left:517.53px;top:700.76px;width:40px"><span>6,2</span></div>
<div class="t d" style="left:557.8px;top:700.76px;width:40px"><span>6,3</span></div>
<div class="t d" style="left:598.07px;top:700.76px;width:40px"><span>7,3</span></div>
<div class="b" style="left:184px;top:715.54px;width:51.2px;height:1px;background:#e9edf0;"></div>
<div class="b" style="left:235.2px;top:715.54px;width:402.9px;height:1px;background:#eaeaea;"></div>
<div class="t d" style="left:185px;top:720.12px;width:24px"><span>V</span></div>
<div class="t d" style="left:210.1px;top:720.12px;width:24px"><span>4</span></div>
<div class="t d ds" style="left:235.63px;top:720.12px;width:40px"><span>-</span></div>
<div class="t d" style="left:275.91px;top:720.12px;width:40px"><span>5</span></div>
<div class="t d" style="left:316.18px;top:720.12px;width:40px"><span>5,4</span></div>
<div class="t d" style="left:356.44px;top:720.12px;width:40px"><span>4,4</span></div>
<div class="t d" style="left:396.71px;top:720.12px;width:40px"><span>4,6</span></div>
<div class="t d" style="left:436.99px;top:720.12px;width:40px"><span>4,8</span></div>
<div class="t d" style="left:477.25px;top:720.12px;width:40px"><span>3,5</span></div>
<div class="t d" style="left:517.53px;top:720.12px;width:40px"><span>4,7</span></div>
<div class="t d" style="left:557.8px;top:720.12px;width:40px"><span>5,2</span></div>
<div class="t d" style="left:598.07px;top:720.12px;width:40px"><span>6,9</span></div>
<div class="b" style="left:184px;top:734.9px;width:51.2px;height:1px;background:#e9edf0;"></div>
<div class="b" style="left:235.2px;top:734.9px;width:402.9px;height:1px;background:#eaeaea;"></div>
<div class="t d" style="left:185px;top:739.48px;width:24px"><span>V</span></div>
<div class="t d" style="left:210.1px;top:739.48px;width:24px"><span>3</span></div>
<div class="t d ds" style="left:235.63px;top:739.48px;width:40px"><span>-</span></div>
<div class="t d" style="left:275.91px;top:739.48px;width:40px"><span>4,2</span></div>
<div class="t d" style="left:316.18px;top:739.48px;width:40px"><span>4,2</span></div>
<div class="t d" style="left:356.44px;top:739.48px;width:40px"><span>3,2</span></div>
<div class="t d" style="left:396.71px;top:739.48px;width:40px"><span>3,1</span></div>
<div class="t d" style="left:436.99px;top:739.48px;width:40px"><span>3,6</span></div>
<div class="t d" style="left:477.25px;top:739.48px;width:40px"><span>2,9</span></div>
<div class="t d" style="left:517.53px;top:739.48px;width:40px"><span>3,3</span></div>
<div class="t d" style="left:557.8px;top:739.48px;width:40px"><span>4,4</span></div>
<div class="t d" style="left:598.07px;top:739.48px;width:40px"><span>6,3</span></div>
<div class="b" style="left:184px;top:754.26px;width:51.2px;height:1px;background:#e9edf0;"></div>
<div class="b" style="left:235.2px;top:754.26px;width:402.9px;height:1px;background:#eaeaea;"></div>
<div class="t d" style="left:185px;top:758.84px;width:24px"><span>V</span></div>
<div class="t d" style="left:210.1px;top:758.84px;width:24px"><span>2</span></div>
<div class="t d ds" style="left:235.63px;top:758.84px;width:40px"><span>-</span></div>
<div class="t d" style="left:275.91px;top:758.84px;width:40px"><span>3,4</span></div>
<div class="t d" style="left:316.18px;top:758.84px;width:40px"><span>3,6</span></div>
<div class="t d" style="left:356.44px;top:758.84px;width:40px"><span>2,7</span></div>
<div class="t d" style="left:396.71px;top:758.84px;width:40px"><span>2</span></div>
<div class="t d" style="left:436.99px;top:758.84px;width:40px"><span>2,9</span></div>
<div class="t d" style="left:477.25px;top:758.84px;width:40px"><span>2,4</span></div>
<div class="t d" style="left:517.53px;top:758.84px;width:40px"><span>2,8</span></div>
<div class="t d" style="left:557.8px;top:758.84px;width:40px"><span>3,8</span></div>
<div class="t d" style="left:598.07px;top:758.84px;width:40px"><span>5,9</span></div>
<div class="b" style="left:184px;top:773.62px;width:51.2px;height:1px;background:#e9edf0;"></div>
<div class="b" style="left:235.2px;top:773.62px;width:402.9px;height:1px;background:#eaeaea;"></div>
<div class="t d" style="left:185px;top:778.2px;width:24px"><span>V</span></div>
<div class="t d" style="left:210.1px;top:778.2px;width:24px"><span>1</span></div>
<div class="t d ds" style="left:235.63px;top:778.2px;width:40px"><span>-</span></div>
<div class="t d" style="left:275.91px;top:778.2px;width:40px"><span>3,1</span></div>
<div class="t d" style="left:316.18px;top:778.2px;width:40px"><span>2,9</span></div>
<div class="t d" style="left:356.44px;top:778.2px;width:40px"><span>2</span></div>
<div class="t d" style="left:396.71px;top:778.2px;width:40px"><span>1,3</span></div>
<div class="t d" style="left:436.99px;top:778.2px;width:40px"><span>2,3</span></div>
<div class="t d" style="left:477.25px;top:778.2px;width:40px"><span>2</span></div>
<div class="t d" style="left:517.53px;top:778.2px;width:40px"><span>2,2</span></div>
<div class="t d" style="left:557.8px;top:778.2px;width:40px"><span>3,6</span></div>
<div class="t d" style="left:598.07px;top:778.2px;width:40px"><span>5,1</span></div>
<div class="b" style="left:32px;top:792.78px;width:606.1px;height:1px;background:#dedede;"></div>
<div class="t l" style="left:35.6px;top:725.5px"><span>Corrente assorbita dal motore</span></div>
<div class="t l" style="left:35.6px;top:734.7px"><span>del ventilatore</span></div>
<div class="t l" style="left:35px;top:798.79px"><span>Tensione di alimentazione</span></div>
<div class="t d" style="left:367.15px;top:798.79px;width:140px"><span>~230 V / 1ph / 50-60 Hz</span></div>
<div class="b" style="left:32px;top:812.4px;width:606.1px;height:1px;background:#adadad;"></div>
<div class="b ft" id="f1" style="top:931.8px">Gli schemi, le descrizioni e le illustrazioni riportate nel presente documento sono da intendersi puramente indicativi e in alcun modo impegnativi. Nell’ottica di un miglioramento continuo</div>
<div class="b ft" id="f2" style="top:939.6px">e a fronte della costante azione di ricerca e sviluppo, ci riserviamo di modificare, anche senza preavviso, i dati tecnici e i contenuti riportati nel presente documento.</div>
<div class="b" id="pn">41</div>
</body></html>
